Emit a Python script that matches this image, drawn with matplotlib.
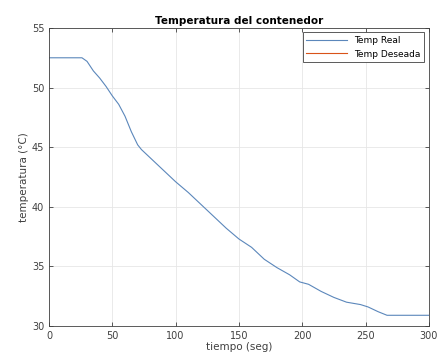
import matplotlib
matplotlib.use('Agg')
import matplotlib.pyplot as plt

# data
tiempo = [0, 10, 20, 26, 30, 35, 40, 45, 50, 55, 60, 65, 70, 73, 77, 80, 90,
          100, 110, 120, 130, 140, 150, 160, 170, 180, 190, 198, 205, 215,
          225, 235, 246, 252, 260, 267, 275, 285, 300]
temp_real = [52.5, 52.5, 52.5, 52.5, 52.2, 51.4, 50.8, 50.1, 49.3, 48.6, 47.6,
             46.3, 45.2, 44.8, 44.4, 44.1, 43.1, 42.1, 41.2, 40.2, 39.2, 38.2,
             37.3, 36.6, 35.6, 34.9, 34.3, 33.7, 33.5, 32.9, 32.4, 32.0, 31.8,
             31.6, 31.2, 30.9, 30.9, 30.9, 30.9]
# desired temperature series is not visible in the picture
tiempo_des = []
temp_des = []

xticks = [0, 50, 100, 150, 200, 250, 300]
yticks = [30, 35, 40, 45, 50, 55]

plt.rcParams['font.family'] = 'DejaVu Sans'
fig = plt.figure(figsize=(4.38, 3.62), dpi=100)
ax = fig.add_axes([0.112, 0.0994, 0.867, 0.8233])

ax.plot(tiempo, temp_real, color='#5b87bb', linewidth=0.8, label='Temp Real')
ax.plot(tiempo_des, temp_des, color='#D95319', linewidth=0.8, label='Temp Deseada')

ax.set_xlim(0, 300)
ax.set_ylim(30, 55)
ax.set_xticks(xticks)
ax.set_yticks(yticks)
ax.grid(True, color='#e6e6e6', linewidth=0.6)
ax.set_axisbelow(True)
ax.tick_params(direction='in', length=3, labelsize=7, colors='#404040',
               top=True, right=True, width=0.6)
for s in ax.spines.values():
    s.set_color('#404040')
    s.set_linewidth(0.6)

ax.set_title('Temperatura del contenedor', fontsize=7.5, fontweight='bold', pad=3)
ax.set_xlabel('tiempo (seg)', fontsize=7.5, labelpad=1, color='#404040')
ax.set_ylabel('temperatura (°C)', fontsize=7.5, labelpad=2, color='#404040')

leg = ax.legend(loc='upper right', fontsize=6.5, fancybox=False, framealpha=1,
                edgecolor='#404040', borderaxespad=0.5, handlelength=4.5)
leg.get_frame().set_linewidth(0.6)

fig.savefig('out.png', dpi=100)
